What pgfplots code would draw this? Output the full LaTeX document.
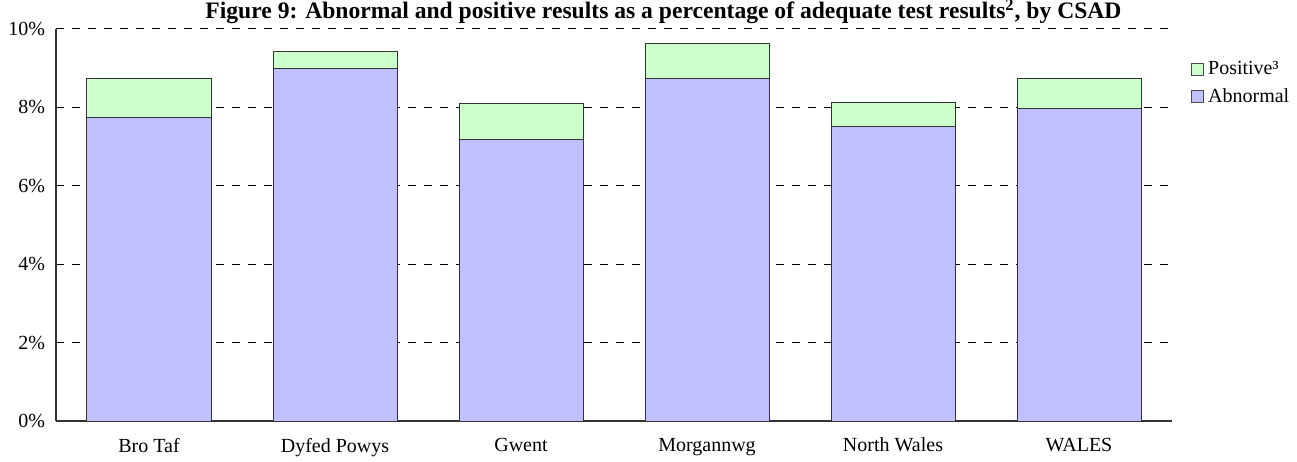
\documentclass[border=0pt]{standalone}
\usepackage{pgfplots}
\pgfplotsset{compat=1.18}
\usepackage{fontspec}
\setmainfont{Liberation Serif}
\definecolor{abn}{HTML}{C0C0FF}
\definecolor{pos}{HTML}{CCFFCC}
\pgfplotstableread{
x abnormal positive
0 7.73 1.02
1 8.98 0.44
2 7.18 0.91
3 8.75 0.89
4 7.51 0.61
5 7.96 0.79
}\datatable
\begin{document}
\begin{tikzpicture}
\begin{axis}[
  name=ax,
  at={(0,0)}, anchor=south west,
  scale only axis,
  width=558pt, height=196pt,
  xmin=-0.5, xmax=5.5, ymin=0, ymax=10,
  ybar stacked, bar width=62pt,
  axis x line*=bottom, axis y line*=left,
  axis line style={-, black!80, line width=0.6pt},
  xtick={0,1,2,3,4,5},
  xticklabels={Bro Taf, Dyfed Powys, Gwent, Morgannwg, North Wales, WALES},
  major x tick style={draw=none},
  extra x ticks={-0.5,0.5,1.5,2.5,3.5,4.5,5.5},
  extra x tick labels={},
  extra x tick style={major tick length=3pt, tick align=inside, tick style={black!80, draw=black!80}, grid=none},
  ytick={0,2,4,6,8,10},
  yticklabel={\rmfamily\pgfmathprintnumber{\tick}\%},
  /pgf/number format/assume math mode=true,
  ymajorgrids,
  major grid style={black, dashed, dash pattern=on 4pt off 4pt, line width=0.5pt},
  major y tick style={draw=none},
  tick label style={font=\rmfamily\fontsize{10pt}{12pt}\selectfont},
  xticklabel style={yshift=-5pt},
  yticklabel style={xshift=-2pt},
  title={\textbf{Figure 9: Abnormal and positive results as a percentage of adequate test results\textsuperscript{2}, by CSAD}},
  title style={font=\rmfamily\fontsize{11.8pt}{13pt}\selectfont, at={(0.5,1)}, anchor=base, yshift=-1pt, xshift=24.75pt, inner sep=0pt},
  legend style={draw=none, fill=none, at={(1.015,0.935)}, anchor=north west, font=\rmfamily\fontsize{10pt}{12pt}\selectfont, row sep=1.5pt, inner sep=1pt},
  legend cell align=left,
  reverse legend,
  legend image code/.code={\draw[#1, draw=black!70] (0pt,-3pt) rectangle (6pt,3pt);},
]
\addplot[fill=abn, draw=black!80, line width=0.5pt] table[x=x, y=abnormal] {\datatable};
\addlegendentry{Abnormal}
\addplot[fill=pos, draw=black!80, line width=0.5pt] table[x=x, y=positive] {\datatable};
\addlegendentry{Positive³}
\end{axis}
\pgfresetboundingbox
\useasboundingbox ([shift={(-28pt,-20pt)}]ax.south west) rectangle ([shift={(62.5pt,14.5pt)}]ax.north east);
\end{tikzpicture}
\end{document}
